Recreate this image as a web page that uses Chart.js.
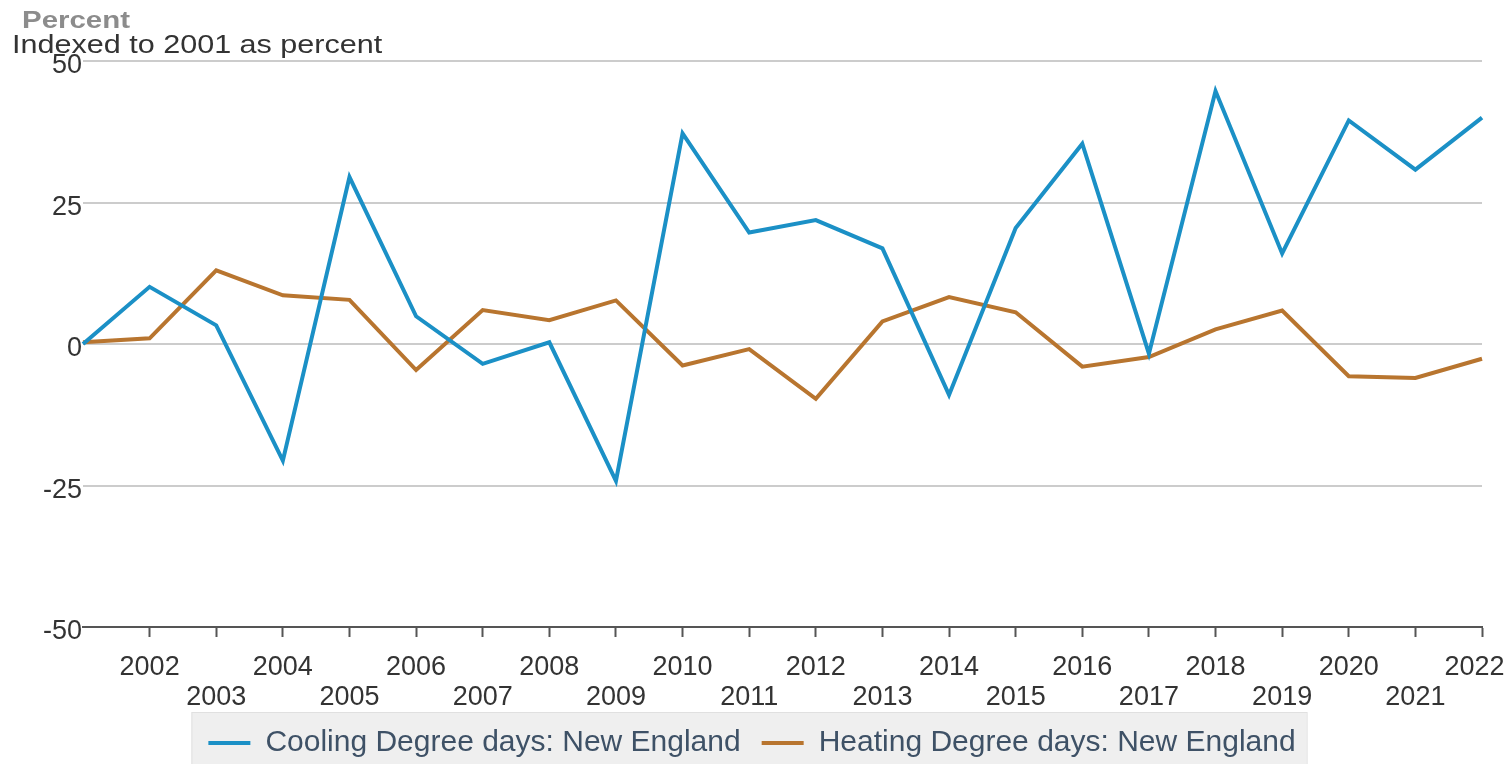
<!DOCTYPE html>
<html>
<head>
<meta charset="utf-8">
<script src="https://cdn.jsdelivr.net/npm/chart.js@4.4.1/dist/chart.umd.min.js"></script>
<style>
html, body { margin: 0; padding: 0; background: #ffffff; overflow: hidden; }
#wrap { width: 1509px; height: 764px; position: relative; }
</style>
</head>
<body>
<div id="wrap"><canvas id="c"></canvas></div>
<script>
const years = ["2001","2002","2003","2004","2005","2006","2007","2008","2009","2010","2011","2012","2013","2014","2015","2016","2017","2018","2019","2020","2021","2022"];
const coolingNE = [0, 10.1, 3.3, -20.6, 29.5, 4.9, -3.5, 0.3, -24.2, 37.2, 19.7, 21.9, 16.9, -9.0, 20.5, 35.4, -1.7, 44.7, 16.0, 39.5, 30.8, 40.0];
const heatingNE = [0.3, 1.0, 13.0, 8.6, 7.8, -4.6, 6.0, 4.2, 7.7, -3.8, -0.9, -9.7, 4.0, 8.3, 5.6, -4.0, -2.3, 2.6, 5.9, -5.7, -6.0, -2.6];
const seriesNames = ["Cooling Degree days: New England", "Heating Degree days: New England"];
const yTicks = [-50, -25, 0, 25, 50];
const titleText = "Percent";
const subtitleText = "Indexed to 2001 as percent";

const FONT = "'Liberation Sans', Arial, Helvetica, sans-serif";

const headerPlugin = {
  id: 'headerText',
  afterDraw(chart) {
    const ctx = chart.ctx;
    ctx.save();
    ctx.textBaseline = 'alphabetic';
    ctx.textAlign = 'left';
    ctx.fillStyle = '#8c8c8c';
    ctx.font = "bold 23px " + FONT;
    ctx.translate(22, 28);
    ctx.scale(1.28, 1);
    ctx.fillText(titleText, 0, 0);
    ctx.restore();
    ctx.save();
    ctx.textBaseline = 'alphabetic';
    ctx.textAlign = 'left';
    ctx.fillStyle = '#333333';
    ctx.font = "26px " + FONT;
    ctx.translate(12, 53);
    ctx.scale(1.175, 1);
    ctx.fillText(subtitleText, 0, 0);
    ctx.restore();
  }
};

const legendBgPlugin = {
  id: 'legendBg',
  beforeDraw(chart) {
    const lg = chart.legend;
    if (!lg || !lg.legendHitBoxes || !lg.legendHitBoxes.length) return;
    let l = Infinity, r = -Infinity, t = Infinity, b = -Infinity;
    lg.legendHitBoxes.forEach(h => {
      l = Math.min(l, h.left); r = Math.max(r, h.left + h.width);
      t = Math.min(t, h.top); b = Math.max(b, h.top + h.height);
    });
    const cy = (t + b) / 2;
    const ctx = chart.ctx;
    ctx.save();
    ctx.fillStyle = '#efefef';
    ctx.fillRect(l - 17, cy - 31, (r - l) + 28, 80);
    ctx.strokeStyle = '#e0e0e0';
    ctx.lineWidth = 1;
    ctx.strokeRect(l - 17 + 0.5, cy - 31 + 0.5, (r - l) + 28, 80);
    ctx.restore();
  }
};

const colors = ['#1b90c6', '#b8752f'];

new Chart(document.getElementById('c'), {
  type: 'line',
  data: {
    labels: years,
    datasets: [
      { label: seriesNames[0], data: coolingNE, borderColor: colors[0], backgroundColor: colors[0], borderWidth: 4, pointRadius: 0, tension: 0, fill: false },
      { label: seriesNames[1], data: heatingNE, borderColor: colors[1], backgroundColor: colors[1], borderWidth: 4, pointRadius: 0, tension: 0, fill: false }
    ]
  },
  options: {
    responsive: true,
    maintainAspectRatio: false,
    animation: false,
    layout: { padding: { top: 61, left: 22, right: 27, bottom: -4 } },
    plugins: {
      title: { display: false },
      tooltip: { enabled: false },
      legend: {
        display: true,
        position: 'bottom',
        labels: {
          boxWidth: 42,
          boxHeight: 4,
          padding: 21,
          color: '#3e5166',
          font: { family: FONT, size: 30 },
          generateLabels(chart) {
            return chart.data.datasets.map((ds, i) => ({
              text: ds.label, fillStyle: ds.borderColor, strokeStyle: ds.borderColor,
              lineWidth: 0, hidden: false, datasetIndex: i, fontColor: '#3e5166'
            }));
          }
        }
      }
    },
    scales: {
      x: {
        type: 'category',
        offset: false,
        afterFit(scale) { scale.height = 80; scale.paddingRight = 27; scale.paddingLeft = 0; },
        grid: {
          display: true,
          drawOnChartArea: false,
          drawTicks: true,
          tickLength: 10,
          tickWidth: 2,
          tickColor: (c) => c.index === 0 ? 'rgba(0,0,0,0)' : '#555555',
          color: '#555555'
        },
        border: { display: true, color: '#555555', width: 2 },
        ticks: {
          autoSkip: false,
          maxRotation: 0,
          minRotation: 0,
          padding: 16,
          color: '#333333',
          font: { family: FONT, size: 27, lineHeight: 1.1 },
          callback(value, index) {
            let y = years[index];
            if (index === 0) return '';
            if (index === years.length - 1) y = y + '  ';
            return (Number(years[index]) % 2 === 0) ? [y, ''] : ['', y];
          }
        }
      },
      y: {
        min: -50,
        max: 50,
        afterFit(scale) { scale.width = 61; },
        afterBuildTicks(scale) { scale.ticks = yTicks.map(v => ({ value: v })); },
        grid: {
          display: true,
          drawTicks: false,
          color: '#cccccc',
          lineWidth: 2
        },
        border: { display: false },
        ticks: {
          padding: 1,
          labelOffset: 5,
          color: '#333333',
          font: { family: FONT, size: 27 },
          callback(v) { return String(v); }
        }
      }
    }
  },
  plugins: [legendBgPlugin, headerPlugin]
});
</script>
</body>
</html>
